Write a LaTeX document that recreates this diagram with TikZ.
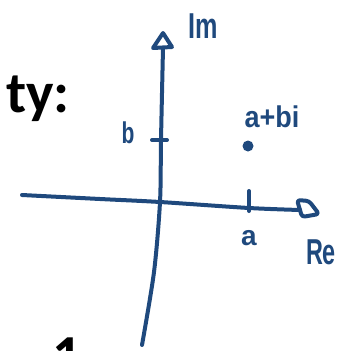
\documentclass[tikz,border=0pt]{standalone}
\usepackage{fontspec}
\setmainfont{Liberation Sans}
\newfontfamily\calib{Carlito}
\definecolor{ink}{RGB}{31,73,125}
\begin{document}
\begin{tikzpicture}[x=1pt,y=-1pt,
  inkline/.style={draw=ink,line width=4pt,line cap=round,line join=round},
  lbl/.style={text=ink,inner sep=0pt,anchor=base},
  boldtext/.style={inner sep=0pt,font=\calib\bfseries\fontsize{58}{58}\selectfont}]
\useasboundingbox (0,0) rectangle (347,351);
\clip (0,0) rectangle (347,351);
% coordinates
\coordinate (O) at (160,202);
\coordinate (vA) at (163,48);
\coordinate (vB) at (161,140);
\coordinate (vC) at (154,272);
\coordinate (vD) at (142,345);
\coordinate (hA) at (22,195);
\coordinate (hB) at (100,199);
\coordinate (hC) at (249,208);
\coordinate (hE) at (300,210);
\coordinate (tick1a) at (249,191);
\coordinate (tick1b) at (249,211);
\coordinate (tick2a) at (152,140);
\coordinate (tick2b) at (167,140);
% axes
\draw[inkline] plot[smooth] coordinates {(vA) (vB) (O) (vC) (vD)};
\draw[inkline] plot[smooth] coordinates {(hA) (hB) (O) (hC) (hE)};
% arrowheads
\draw[inkline] (153,48) -- (163,33) -- (172,47) -- cycle;
\draw[inkline,rounded corners=3pt] (hE) -- (297,200) -- (309,201) -- (319,214) -- (302,217) -- (hE);
% ticks
\draw[inkline] (tick1a) -- (tick1b);
\draw[inkline] (tick2a) -- (tick2b);
% point
\node[circle,fill=ink,inner sep=0pt,minimum size=11pt] (pt) at (248,146) {};
% labels
\node[lbl,font=\bfseries\fontsize{36}{36}\selectfont,xscale=0.7] (im) at (203,38) {Im};
\node[lbl,font=\bfseries\fontsize{36}{36}\selectfont,xscale=0.65] (re) at (321,264) {Re};
\node[lbl,font=\bfseries\fontsize{30}{30}\selectfont,xscale=0.7] (lb) at (128,143) {b};
\node[lbl,font=\bfseries\fontsize{28}{28}\selectfont] (la) at (249,245) {a};
\node[lbl,font=\bfseries\fontsize{30}{30}\selectfont,xscale=0.9] (lab) at (272,127) {a+bi};
% black bold text
\node[boldtext,anchor=base east] (ty) at (70,112) {ty:};
\node[boldtext,anchor=base] (one) at (67,375) {1};
\end{tikzpicture}
\end{document}
